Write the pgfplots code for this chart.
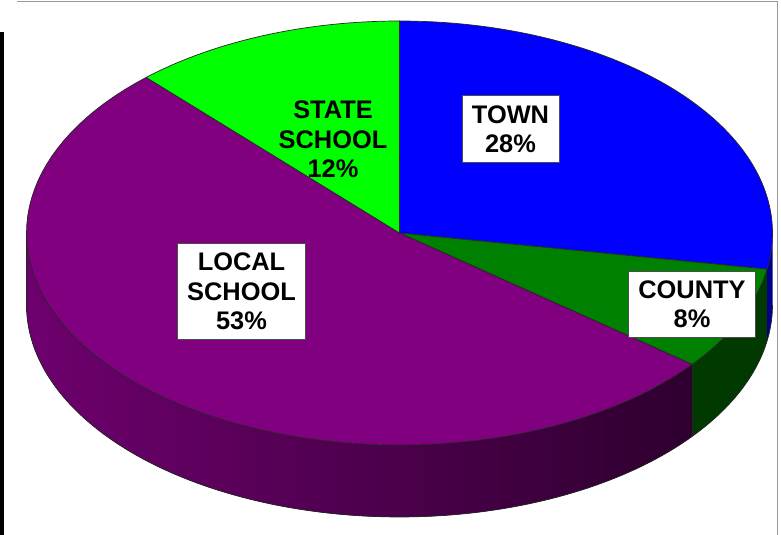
\documentclass[border=0pt]{standalone}
\usepackage{pgfplots}
\pgfplotsset{compat=1.18}
\usepgfplotslibrary{fillbetween}
\usepackage{fontspec}
\setmainfont{Liberation Sans}

\definecolor{cTown}{HTML}{0000FF}
\definecolor{cCounty}{HTML}{008000}
\definecolor{cLocal}{HTML}{800080}
\definecolor{cState}{HTML}{00FF00}
\definecolor{sTown}{HTML}{00008C}
\definecolor{sCounty}{HTML}{003A00}
\definecolor{sLocalL}{HTML}{6E006E}
\definecolor{sLocalR}{HTML}{2E002E}

\tikzset{lbl/.style={draw=black!70, line width=0.8pt, fill=white, align=center,
    font=\fontsize{25.5}{29.5}\selectfont\bfseries, inner xsep=10bp, inner ysep=9.5bp}}

% pie geometry (pixels)
\def\cx{399.5}
\def\cy{233}
\def\ra{373}
\def\rb{212}
\def\dep{72}

% data (percent)
\def\pTown{28}
\def\pCounty{8}
\def\pLocal{53}
\def\pState{12}

\pgfmathsetmacro\tot{\pTown+\pCounty+\pLocal+\pState}
\pgfmathsetmacro\aA{90-\pTown/\tot*360}
\pgfmathsetmacro\aB{\aA-\pCounty/\tot*360}
\pgfmathsetmacro\aC{\aB-\pLocal/\tot*360}
\pgfmathsetmacro\aD{\aC-\pState/\tot*360}

\newcommand\topwedge[3]{%
  \pgfmathsetmacro\wlo{#1}\pgfmathsetmacro\whi{#2}%
  \pgfmathsetmacro\wh{(\whi-\wlo)/80}%
  \pgfmathsetmacro\wdlo{\wlo-\wh}\pgfmathsetmacro\wdhi{\whi+\wh}%
  \pgfmathsetmacro\wtl{\wlo-\wh/2}\pgfmathsetmacro\wth{\whi+\wh/2}%
  \addplot[fill=#3, draw=black!85, line width=0.7pt, line join=round,
    domain=\wdlo:\wdhi, samples=83, variable=\t]
   ({\cx + \ra*cos(max(\wlo,min(\whi,\t)))*(((\t<(\wtl)) || (\t>(\wth))) ? 0 : 1)},
    {\cy - \rb*sin(max(\wlo,min(\whi,\t)))*(((\t<(\wtl)) || (\t>(\wth))) ? 0 : 1)});
}

\newcommand\sideface[4]{%
  \addplot[draw=none, name path=#1top, domain=#2:#3, samples=80, variable=\t]
    ({\cx+\ra*cos(\t)},{\cy-\rb*sin(\t)});
  \addplot[draw=none, name path=#1bot, domain=#2:#3, samples=80, variable=\t]
    ({\cx+\ra*cos(\t)},{\cy-\rb*sin(\t)+\dep});
  \addplot[#4] fill between[of=#1top and #1bot];
}

\begin{document}
\begin{tikzpicture}
\begin{axis}[
  scale only axis, width=781bp, height=535bp,
  xmin=0, xmax=781, ymin=0, ymax=535, y dir=reverse,
  hide axis, clip=true,
]
\path (axis cs:0,0) rectangle (axis cs:781,535);

% side faces
\sideface{purp}{-180}{\aB}{left color=sLocalL, right color=sLocalR, draw=none}
\sideface{gree}{\aB}{\aA}{fill=sCounty, draw=none}
\sideface{blue}{\aA}{0}{fill=sTown, draw=none}

% side outlines
\addplot[draw=black!85, line width=0.7pt, domain=-180:0, samples=120, variable=\t]
  ({\cx+\ra*cos(\t)},{\cy-\rb*sin(\t)+\dep});
\addplot[draw=black!85, line width=0.7pt, domain=0:1, samples=2]
  ({\cx+\ra*cos(\aB)},{\cy-\rb*sin(\aB)+\dep*x});
\addplot[draw=black!85, line width=0.7pt, domain=0:1, samples=2]
  ({\cx-\ra},{\cy+\dep*x});

% top face
\topwedge{\aA}{90}{cTown}
\topwedge{\aB}{\aA}{cCounty}
\topwedge{\aC}{\aB}{cLocal}
\topwedge{\aD}{\aC}{cState}

% labels
\node[lbl] at (axis cs:510.5,129) {TOWN\\28\%};
\node[lbl] at (axis cs:692,304.5) {COUNTY\\8\%};
\node[lbl] at (axis cs:241.5,291.5) {LOCAL\\SCHOOL\\53\%};
\node[align=center, font=\fontsize{25.5}{29.5}\selectfont\bfseries, inner sep=0pt]
  at (axis cs:333,139.5) {STATE\\SCHOOL\\12\%};

% frame
\draw[gray!80, line width=1.2pt] (axis cs:17,1.5) -- (axis cs:777.5,1.5) -- (axis cs:777.5,535);
\fill[black] (axis cs:0,32) rectangle (axis cs:3.5,535);
\end{axis}
\end{tikzpicture}
\end{document}
